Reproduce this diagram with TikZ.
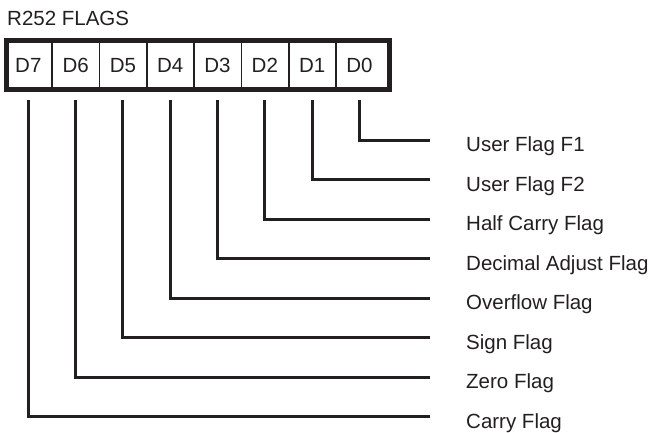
\documentclass[tikz,border=0pt]{standalone}
\usepackage{fontspec}
\setmainfont{Liberation Sans}
\definecolor{ink}{RGB}{35,31,32}
\tikzstyle{flag chart}=[
    x=1pt, y=-1pt,
    font={\fontsize{20.5pt}{24pt}\selectfont},
    every node/.style={text=ink},
    chart title/.style={anchor=base west, inner sep=0pt},
    bit cell/.style={minimum width=47.3pt, minimum height=49pt, inner sep=0pt, text height=14.7pt, text depth=0pt},
    bit frame/.style={draw=ink, line width=5pt},
    bit divider/.style={draw=ink, line width=1.6pt},
    flag line/.style={draw=ink, line width=3pt, line join=miter},
    flag label/.style={anchor=west, inner sep=0pt, text height=14.7pt, text depth=0pt},
]
\newcommand{\flags}[1]{
    \foreach \n/\t [count=\i from 0] in {#1}{
        \pgfmathsetmacro{\fy}{140+39.5*\i}
        \node[flag label] (f\n) at (466,\fy+4.5) {\t};
        \draw[flag line] ([yshift=-10.5pt]d\n.south) |- ([xshift=-36pt,yshift=4.5pt]f\n.west);
    }
}

\begin{document}
\begin{tikzpicture}[flag chart]
    \useasboundingbox (0,0) rectangle (649,432);

    \node[chart title] (title) at (7,25) {R252 FLAGS};

    % register bits
    \foreach \b [count=\i from 0] in {7,...,0}{
        \node[bit cell] (d\b) at (28.35+47.3*\i,65) {D\b};
    }
    \foreach \b in {7,...,1}
        \draw[bit divider] (d\b.north east) -- (d\b.south east);
    \draw[bit frame] (6.5,40.5) rectangle (389.5,89.5);

    \flags{0/{User Flag F1},1/{User Flag F2},2/{Half Carry Flag},3/{Decimal Adjust Flag},4/{Overflow Flag},5/{Sign Flag},6/{Zero Flag},7/{Carry Flag}}
\end{tikzpicture}
\end{document}
